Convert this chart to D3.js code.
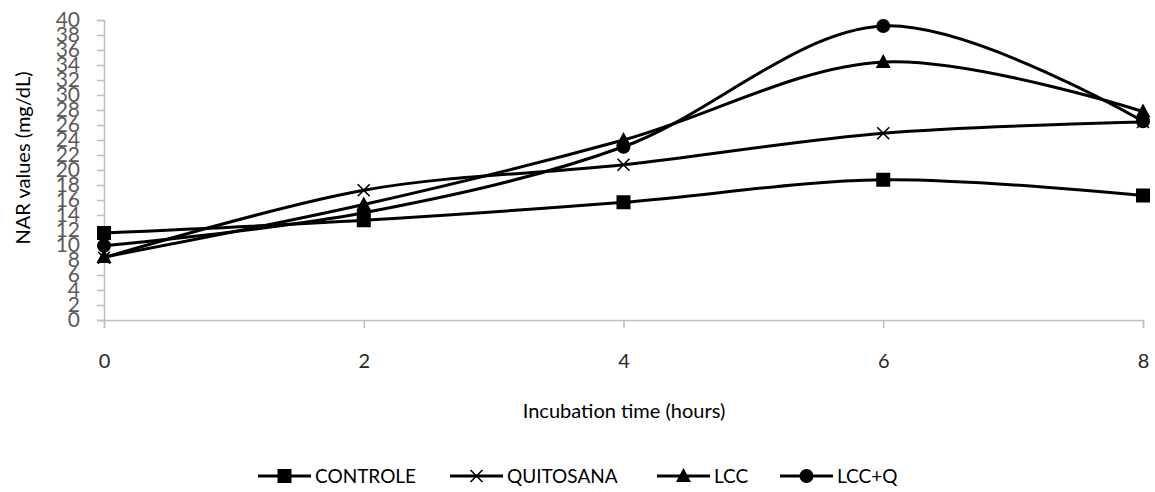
<!DOCTYPE html>
<html>
<head>
<meta charset="utf-8">
<script src="https://cdn.jsdelivr.net/npm/d3@7"></script>
<style>
  body { margin: 0; background: #fff; }
  svg { display: block; font-family: Lato, "Open Sans", sans-serif; }
</style>
</head>
<body>
<svg width="1155" height="492"></svg>
<script>
// data
const hours = [0, 2, 4, 6, 8];
const controle = [11.6, 13.3, 15.7, 18.7, 16.6];
const quitosana = [8.3, 17.3, 20.7, 24.9, 26.4];
const lcc = [8.4, 15.4, 24.0, 34.4, 27.8];
const lccQ = [9.9, 14.3, 23.1, 39.2, 26.5];
const yTicks = d3.range(0, 41, 2);
const xTicks = [0, 2, 4, 6, 8];

const series = [
	{ name: "CONTROLE", values: controle, marker: "square" },
	{ name: "QUITOSANA", values: quitosana, marker: "cross" },
	{ name: "LCC", values: lcc, marker: "triangle" },
	{ name: "LCC+Q", values: lccQ, marker: "circle" }
];

let svg = d3.select("svg");

let x = d3.scaleLinear().domain([0, 8]).range([104, 1143]);
let y = d3.scaleLinear().domain([0, 40]).range([320, 20]);

const axisColor = "#bfbfbf";

// y axis
let yAxis = svg.append("g")
	.attr("transform", "translate(104,0)")
	.call(d3.axisLeft(y).tickValues(yTicks).tickSize(7).tickPadding(17));
yAxis.select(".domain").attr("stroke", axisColor).attr("stroke-width", 1.5);
yAxis.selectAll(".tick line").attr("stroke", axisColor).attr("stroke-width", 1.5);
yAxis.selectAll("text")
	.attr("fill", "#595959")
	.style("font-size", "21px")
	.style("font-family", "Lato, sans-serif");

// x axis
let xAxis = svg.append("g")
	.attr("transform", "translate(0,320)")
	.call(d3.axisBottom(x).tickValues(xTicks).tickSize(8).tickPadding(26));
xAxis.select(".domain").attr("stroke", axisColor).attr("stroke-width", 1.5);
xAxis.selectAll(".tick line").attr("stroke", axisColor).attr("stroke-width", 1.5);
xAxis.selectAll("text")
	.attr("fill", "#262626")
	.style("font-size", "20px")
	.style("font-family", "Lato, sans-serif");

// axis titles
svg.append("text")
	.attr("transform", "translate(30,158) rotate(-90)")
	.attr("text-anchor", "middle")
	.style("font-size", "20px")
	.attr("fill", "#000")
	.text("NAR values (mg/dL)");

svg.append("text")
	.attr("x", 624)
	.attr("y", 418)
	.attr("text-anchor", "middle")
	.style("font-size", "20px")
	.attr("fill", "#000")
	.text("Incubation time (hours)");

let line = d3.line()
	.x(function (d) { return x(d[0]); })
	.y(function (d) { return y(d[1]); })
	.curve(d3.curveCardinal.tension(0));

function drawMarker(g, type, cx, cy) {
	if (type === "square") {
		g.append("rect").attr("x", cx - 7).attr("y", cy - 7)
			.attr("width", 14).attr("height", 14).attr("fill", "#000");
	} else if (type === "circle") {
		g.append("circle").attr("cx", cx).attr("cy", cy).attr("r", 7).attr("fill", "#000");
	} else if (type === "triangle") {
		g.append("path")
			.attr("d", "M" + cx + "," + (cy - 8) + "L" + (cx + 7.5) + "," + (cy + 6) + "L" + (cx - 7.5) + "," + (cy + 6) + "Z")
			.attr("fill", "#000");
	} else if (type === "cross") {
		g.append("path")
			.attr("d", "M" + (cx - 6) + "," + (cy - 6) + "L" + (cx + 6) + "," + (cy + 6) +
				"M" + (cx + 6) + "," + (cy - 6) + "L" + (cx - 6) + "," + (cy + 6))
			.attr("stroke", "#000").attr("stroke-width", 1.6).attr("fill", "none");
	}
}

series.forEach(function (s) {
	let pts = hours.map(function (h, i) { return [h, s.values[i]]; });
	let g = svg.append("g").attr("class", "series");
	g.append("path")
		.attr("d", line(pts))
		.attr("fill", "none")
		.attr("stroke", "#000")
		.attr("stroke-width", 3);
	pts.forEach(function (p) {
		drawMarker(g, s.marker, x(p[0]), y(p[1]));
	});
});

// legend
const legendX = [258, 450, 657, 780];
let legend = svg.append("g").attr("class", "legend");
series.forEach(function (s, i) {
	let lx = legendX[i], ly = 476;
	let g = legend.append("g");
	g.append("line")
		.attr("x1", lx).attr("x2", lx + 53)
		.attr("y1", ly).attr("y2", ly)
		.attr("stroke", "#000").attr("stroke-width", 3);
	drawMarker(g, s.marker, lx + 26.5, ly);
	g.append("text")
		.attr("x", lx + 57)
		.attr("y", ly + 7)
		.style("font-size", "19px")
		.attr("fill", "#000")
		.text(s.name);
});
</script>
</body>
</html>
